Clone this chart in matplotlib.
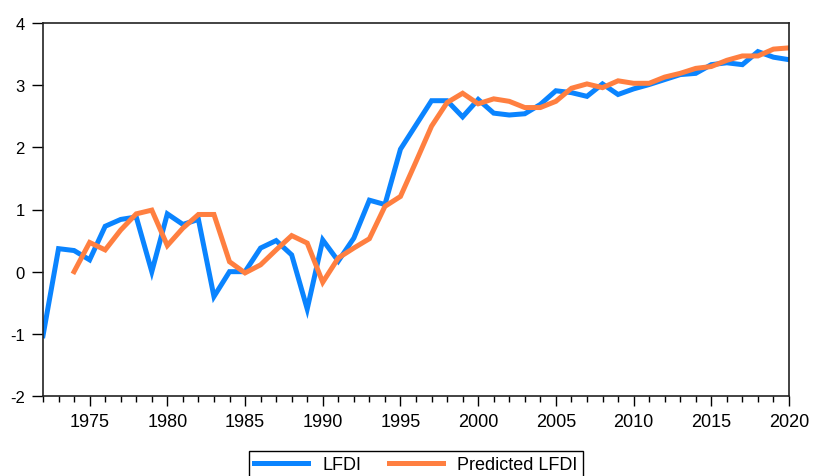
import numpy as np
import matplotlib
matplotlib.use('Agg')
import matplotlib.pyplot as plt
from matplotlib.ticker import MultipleLocator

# yearly series
years = list(range(1972, 2021))
lfdi = [-1.03, 0.37, 0.34, 0.19, 0.73, 0.84, 0.88, 0.00, 0.93, 0.76,
        0.84, -0.40, 0.00, 0.00, 0.38, 0.50, 0.27, -0.60, 0.51, 0.17,
        0.54, 1.15, 1.08, 1.97, 2.36, 2.75, 2.75, 2.49, 2.77, 2.55,
        2.52, 2.54, 2.69, 2.91, 2.88, 2.82, 3.02, 2.85, 2.94, 3.01,
        3.09, 3.17, 3.19, 3.33, 3.36, 3.33, 3.54, 3.45, 3.41]
# predicted series starts in 1974
pred_years = list(range(1974, 2021))
pred_lfdi = [0.00, 0.47, 0.35, 0.67, 0.93, 0.99, 0.42, 0.70, 0.92, 0.92,
             0.16, -0.02, 0.11, 0.35, 0.58, 0.46, -0.17, 0.22, 0.38, 0.53,
             1.05, 1.21, 1.77, 2.34, 2.72, 2.87, 2.70, 2.78, 2.74, 2.64,
             2.64, 2.74, 2.95, 3.02, 2.96, 3.07, 3.03, 3.03, 3.13, 3.19,
             3.27, 3.30, 3.40, 3.47, 3.47, 3.58, 3.60]

plt.rcParams['font.family'] = ['Liberation Sans', 'DejaVu Sans']
plt.rcParams['axes.unicode_minus'] = False

fig = plt.figure(figsize=(8.13, 4.77), dpi=100)
ax = fig.add_axes([43/813, 1 - 397/477, (789 - 43)/813, (397 - 24)/477])

ax.plot(years, lfdi, color='#0A84FF', lw=3.6, label='LFDI', solid_joinstyle='miter')
ax.plot(pred_years, pred_lfdi, color='#FF7F40', lw=3.6, label='Predicted LFDI', solid_joinstyle='miter')

ax.set_xlim(1972, 2020)
ax.set_ylim(-2, 4)
ax.xaxis.set_major_locator(MultipleLocator(5))
ax.xaxis.set_minor_locator(MultipleLocator(1))
ax.yaxis.set_major_locator(MultipleLocator(1))
ax.set_xticks(range(1975, 2021, 5))

ax.tick_params(axis='x', which='major', length=7, width=1, pad=5, labelsize=13)
ax.tick_params(axis='x', which='minor', length=4, width=1)
ax.tick_params(axis='y', which='major', length=8, width=1, pad=5, labelsize=12)
for s in ax.spines.values():
    s.set_linewidth(1.2)
    s.set_color('#222222')

fig.legend(loc='upper center', bbox_to_anchor=(416/813, 1 - 452/477), ncol=2,
           frameon=True, fancybox=False, edgecolor='black', fontsize=13,
           handlelength=3.0, columnspacing=1.5, borderaxespad=0,
           borderpad=0.3, framealpha=1)

fig.savefig('out.png', dpi=100)
